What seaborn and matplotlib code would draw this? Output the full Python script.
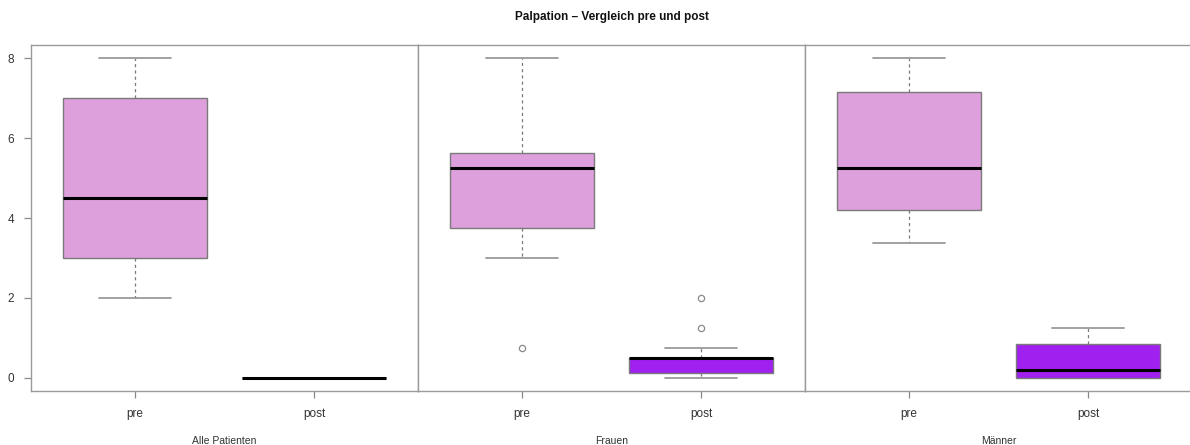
import matplotlib
matplotlib.use("Agg")
import matplotlib.pyplot as plt
import pandas as pd
import seaborn as sns

# Palpation scores per group, before and after treatment
titel = "Palpation – Vergleich pre und post"
gruppen = ["Alle Patienten", "Frauen", "Männer"]
zeitpunkte = ["pre", "post"]

alle_pre = [2, 3, 3, 4, 4.5, 6, 7, 7, 8]
alle_post = [0, 0, 0, 0, 0, 0, 0, 0, 0]
frauen_pre = [0.75, 3, 3.75, 4.5, 5.25, 5.5, 5.625, 7, 8]
frauen_post = [0, 0, 0.125, 0.125, 0.25, 0.5, 0.5, 0.5, 0.5, 0.5, 0.75, 1.25, 2]
maenner_pre = [3.375, 3.75, 4.2, 4.5, 5.25, 6, 7.15, 7.5, 8]
maenner_post = [0, 0, 0, 0.1, 0.2, 0.5, 0.84, 1, 1.25]

y_ticks = [0, 2, 4, 6, 8]
farben = {"pre": "#DDA0DD", "post": "#A020F0"}

werte = [(alle_pre, alle_post), (frauen_pre, frauen_post), (maenner_pre, maenner_post)]

sns.set_theme(style="white")
plt.rcParams["font.family"] = ["Liberation Sans", "DejaVu Sans"]

W, H = 1190, 445
fig = plt.figure(figsize=(W / 100, H / 100), dpi=100)

rand = "#9a9a9a"
text_farbe = "#333333"
links, breite, oben, unten = 31, 387, 45, 391

for i, (gruppe, (pre, post)) in enumerate(zip(gruppen, werte)):
    x0 = links + i * breite
    ax = fig.add_axes([x0 / W, 1 - unten / H, breite / W, (unten - oben) / H])
    df = pd.DataFrame({
        "Zeitpunkt": ["pre"] * len(pre) + ["post"] * len(post),
        "Wert": pre + post,
    })
    sns.boxplot(
        data=df, x="Zeitpunkt", y="Wert", hue="Zeitpunkt",
        order=zeitpunkte, hue_order=zeitpunkte, palette=farben,
        saturation=1, width=0.8, legend=False, ax=ax,
        boxprops=dict(edgecolor="#7a7a7a", linewidth=1.0, zorder=2),
        whiskerprops=dict(color="#7a7a7a", linestyle=(0, (2.5, 2.5)), linewidth=0.9, zorder=1),
        capprops=dict(color="#9a9a9a", linewidth=1.3, zorder=1),
        medianprops=dict(color="black", linewidth=2.2, zorder=3),
        flierprops=dict(marker="o", markersize=4.5, markerfacecolor="none",
                        markeredgecolor="#8a8a8a", markeredgewidth=0.9),
        capwidths=0.4,
    )
    ax.set_xlim(-0.58, 1.58)
    ax.set_ylim(-0.33, 8.33)
    ax.set_ylabel("")
    ax.set_xlabel(gruppe, fontsize=7.5, color=text_farbe, labelpad=12)
    ax.set_xticks([0, 1])
    ax.set_xticklabels(zeitpunkte)
    if i == 0:
        ax.set_yticks(y_ticks)
        ax.set_yticklabels([str(v) for v in y_ticks])
    else:
        ax.set_yticks([])
    ax.tick_params(axis="both", direction="out", length=5, width=0.9, color="#8a8a8a",
                   labelsize=8.5, labelcolor=text_farbe, pad=7,
                   bottom=True, left=True)
    ax.tick_params(axis="y", pad=7)
    for sp in ax.spines.values():
        sp.set_visible(True)
        sp.set_color(rand)
        sp.set_linewidth(1.0)

fig.text(612 / W, 1 - 17 / H, titel, ha="center", va="center",
         fontsize=8.5, fontweight="bold", color="#111111")

fig.savefig("out.png", dpi=100)
